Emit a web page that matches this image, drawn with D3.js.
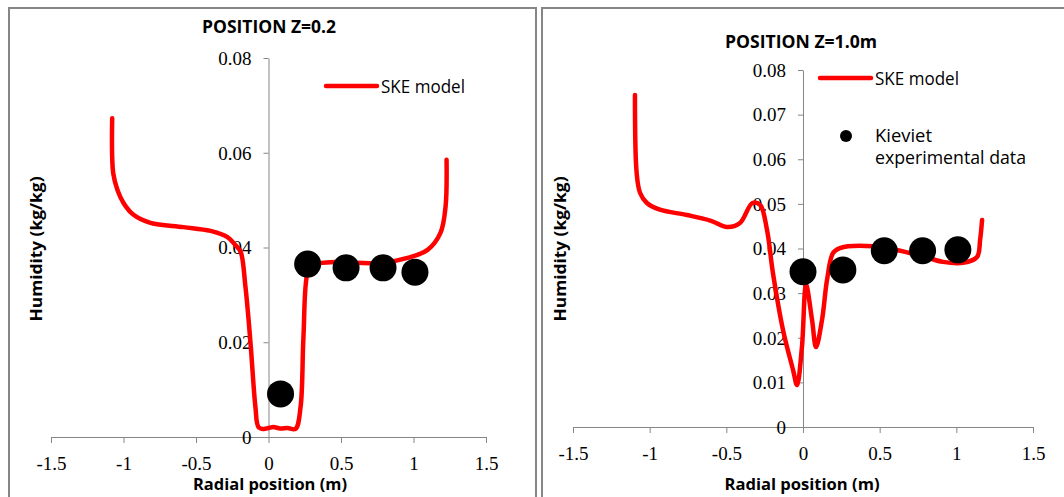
<!DOCTYPE html>
<html>
<head>
<meta charset="utf-8">
<script src="https://cdn.jsdelivr.net/npm/d3@7"></script>
<style>
  body { margin: 0; background: #fff; }
  svg { display: block; }
  .tick text { font-family: "Liberation Serif", "DejaVu Serif", serif; font-size: 19px; fill: #000; }
  .lbl { font-family: "Open Sans", "Liberation Sans", sans-serif; fill: #000; }
</style>
</head>
<body>
<div id="chart"></div>
<script>
// SKE model curve, position z = 0.2
var z02ModelR = [-1.078, -1.071, -1.041, -1.0, -0.931, -0.814, -0.586, -0.4, -0.283, -0.228, -0.193,
                 -0.159, -0.124, -0.09, -0.069, -0.034, 0.0, 0.034, 0.08, 0.131, 0.186, 0.221, 0.241,
                 0.269, 0.303, 0.428, 0.6, 0.772, 0.959, 1.097, 1.186, 1.221, 1.228];
var z02ModelH = [0.0673, 0.0557, 0.0521, 0.0494, 0.0469, 0.0452, 0.0443, 0.0435, 0.0422, 0.0405, 0.0392,
                 0.0317, 0.0198, 0.0063, 0.0021, 0.0017, 0.0019, 0.0021, 0.0018, 0.0019, 0.0017, 0.0063, 0.0211,
                 0.0346, 0.0363, 0.0369, 0.0368, 0.0367, 0.0378, 0.0395, 0.0431, 0.0486, 0.0585];
// Kieviet experimental data, z = 0.2
var z02ExpR = [0.083, 0.27, 0.535, 0.79, 1.01];
var z02ExpH = [0.0091, 0.0365, 0.0357, 0.0357, 0.0348];

// SKE model curve, position z = 1.0 m
var z10ModelR = [-1.096, -1.085, -1.063, -1.018, -0.933, -0.757, -0.6, -0.496, -0.411, -0.33, -0.28,
                 -0.235, -0.196, -0.13, -0.065, -0.039, -0.007, 0.02, 0.059, 0.085, 0.124, 0.157, 0.196,
                 0.241, 0.457, 0.744, 0.913, 1.044, 1.135, 1.155, 1.168];
var z10ModelH = [0.0744, 0.057, 0.0525, 0.0502, 0.0487, 0.0475, 0.0462, 0.0448, 0.0457, 0.0502, 0.0498,
                 0.0442, 0.0345, 0.0217, 0.0128, 0.0094, 0.0179, 0.0318, 0.024, 0.0179, 0.024, 0.033, 0.039,
                 0.0401, 0.0405, 0.0386, 0.037, 0.0368, 0.0381, 0.0419, 0.0464];
// Kieviet experimental data, z = 1.0 m
var z10ExpR = [0.0, 0.26, 0.53, 0.78, 1.01];
var z10ExpH = [0.0348, 0.0352, 0.0395, 0.0395, 0.0397];

// Axis ticks
var xTicks = [-1.5, -1, -0.5, 0, 0.5, 1, 1.5];
var yTicksLeft = [0, 0.02, 0.04, 0.06, 0.08];
var yTicksRight = [0, 0.01, 0.02, 0.03, 0.04, 0.05, 0.06, 0.07, 0.08];

var svg = d3.select('#chart').append('svg')
    .attr('width', 1064)
    .attr('height', 497);

var zip = function(a, b){ return a.map(function(v, i){ return [v, b[i]]; }); };

var drawPanel = function(p){
    // frame
    svg.append('rect')
        .attr('x', p.frame[0]).attr('y', p.frame[1])
        .attr('width', p.frame[2]).attr('height', p.frame[3])
        .style('fill', 'none').style('stroke', '#868686').style('stroke-width', 2);

    var x = d3.scaleLinear().domain([-1.5, 1.5]).range(p.xr),
        y = d3.scaleLinear().domain([0, 0.08]).range(p.yr);

    var xAxis = svg.append('g')
        .attr('transform', 'translate(0,' + y(0) + ')')
        .call(d3.axisBottom(x).tickValues(xTicks).tickSize(6).tickSizeOuter(0)
              .tickFormat(function(d){ return d3.format('')(d).replace('−', '-'); }));
    xAxis.selectAll('text').attr('y', 33).attr('dy', 0);

    var yAxis = svg.append('g')
        .attr('transform', 'translate(' + x(0) + ',0)')
        .call(d3.axisLeft(y).tickValues(p.yTicks).tickSize(5).tickSizeOuter(0)
              .tickFormat(function(d){ return d === 0 ? '0' : d3.format('.2f')(d); }));
    yAxis.selectAll('text').attr('x', -17).attr('dy', '0.33em');

    [xAxis, yAxis].forEach(function(a){
        a.select('.domain').style('stroke', '#868686');
        a.selectAll('line').style('stroke', '#868686');
    });

    // model curve
    svg.append('path')
        .datum(zip(p.modelR, p.modelH))
        .attr('d', d3.line()
            .x(function(d){ return x(d[0]); })
            .y(function(d){ return y(d[1]); })
            .curve(d3.curveCatmullRom.alpha(0.5)))
        .style('fill', 'none').style('stroke', '#ff0000')
        .style('stroke-width', 4.5).style('stroke-linejoin', 'round').style('stroke-linecap', 'round');

    // experimental points
    svg.selectAll(null)
        .data(zip(p.expR, p.expH))
        .enter()
        .append('circle')
        .attr('cx', function(d){ return x(d[0]); })
        .attr('cy', function(d){ return y(d[1]); })
        .attr('r', 13.5)
        .style('fill', '#000');

    // title and axis titles
    svg.append('text').attr('class', 'lbl')
        .attr('x', p.title[0]).attr('y', p.title[1])
        .attr('text-anchor', 'middle')
        .attr('textLength', p.title[2]).attr('lengthAdjust', 'spacingAndGlyphs')
        .style('font-size', '17px').style('font-weight', 'bold')
        .text(p.titleText);

    svg.append('text').attr('class', 'lbl')
        .attr('x', p.xTitle[0]).attr('y', 490)
        .attr('text-anchor', 'middle')
        .attr('textLength', p.xTitle[1]).attr('lengthAdjust', 'spacingAndGlyphs')
        .style('font-size', '16px').style('font-weight', 'bold')
        .text('Radial position (m)');

    svg.append('text').attr('class', 'lbl')
        .attr('transform', 'translate(' + p.yTitle[0] + ',249) rotate(-90)')
        .attr('text-anchor', 'middle')
        .attr('textLength', 145).attr('lengthAdjust', 'spacingAndGlyphs')
        .style('font-size', '16px').style('font-weight', 'bold')
        .text('Humidity (kg/kg)');

    // legend
    svg.append('line')
        .attr('x1', p.leg[0]).attr('x2', p.leg[0] + 51)
        .attr('y1', p.leg[1]).attr('y2', p.leg[1])
        .style('stroke', '#ff0000').style('stroke-width', 4.5).style('stroke-linecap', 'round');
    svg.append('text').attr('class', 'lbl')
        .attr('x', p.leg[0] + 55).attr('y', p.leg[1] + 7)
        .attr('textLength', 84).attr('lengthAdjust', 'spacingAndGlyphs')
        .style('font-size', '18px')
        .text('SKE model');

    if (p.expLegend){
        svg.append('circle')
            .attr('cx', p.leg[0] + 26).attr('cy', p.leg[1] + 58)
            .attr('r', 6).style('fill', '#000');
        svg.append('text').attr('class', 'lbl')
            .attr('x', p.leg[0] + 55).attr('y', p.leg[1] + 64)
            .attr('textLength', 57).attr('lengthAdjust', 'spacingAndGlyphs')
            .style('font-size', '18px')
            .text('Kieviet');
        svg.append('text').attr('class', 'lbl')
            .attr('x', p.leg[0] + 55).attr('y', p.leg[1] + 86)
            .attr('textLength', 151).attr('lengthAdjust', 'spacingAndGlyphs')
            .style('font-size', '18px')
            .text('experimental data');
    }
};

drawPanel({
    frame: [9, 8, 527, 500],
    xr: [51, 486], yr: [437, 58],
    yTicks: yTicksLeft,
    modelR: z02ModelR, modelH: z02ModelH,
    expR: z02ExpR, expH: z02ExpH,
    titleText: 'POSITION Z=0.2', title: [269, 33, 134],
    xTitle: [270, 154], yTitle: [42],
    leg: [326, 86], expLegend: false
});

drawPanel({
    frame: [542, 8, 540, 500],
    xr: [573, 1033], yr: [427, 70],
    yTicks: yTicksRight,
    modelR: z10ModelR, modelH: z10ModelH,
    expR: z10ExpR, expH: z10ExpH,
    titleText: 'POSITION Z=1.0m', title: [801, 48, 152],
    xTitle: [802, 155], yTitle: [566],
    leg: [820, 78], expLegend: true
});
</script>
</body>
</html>
